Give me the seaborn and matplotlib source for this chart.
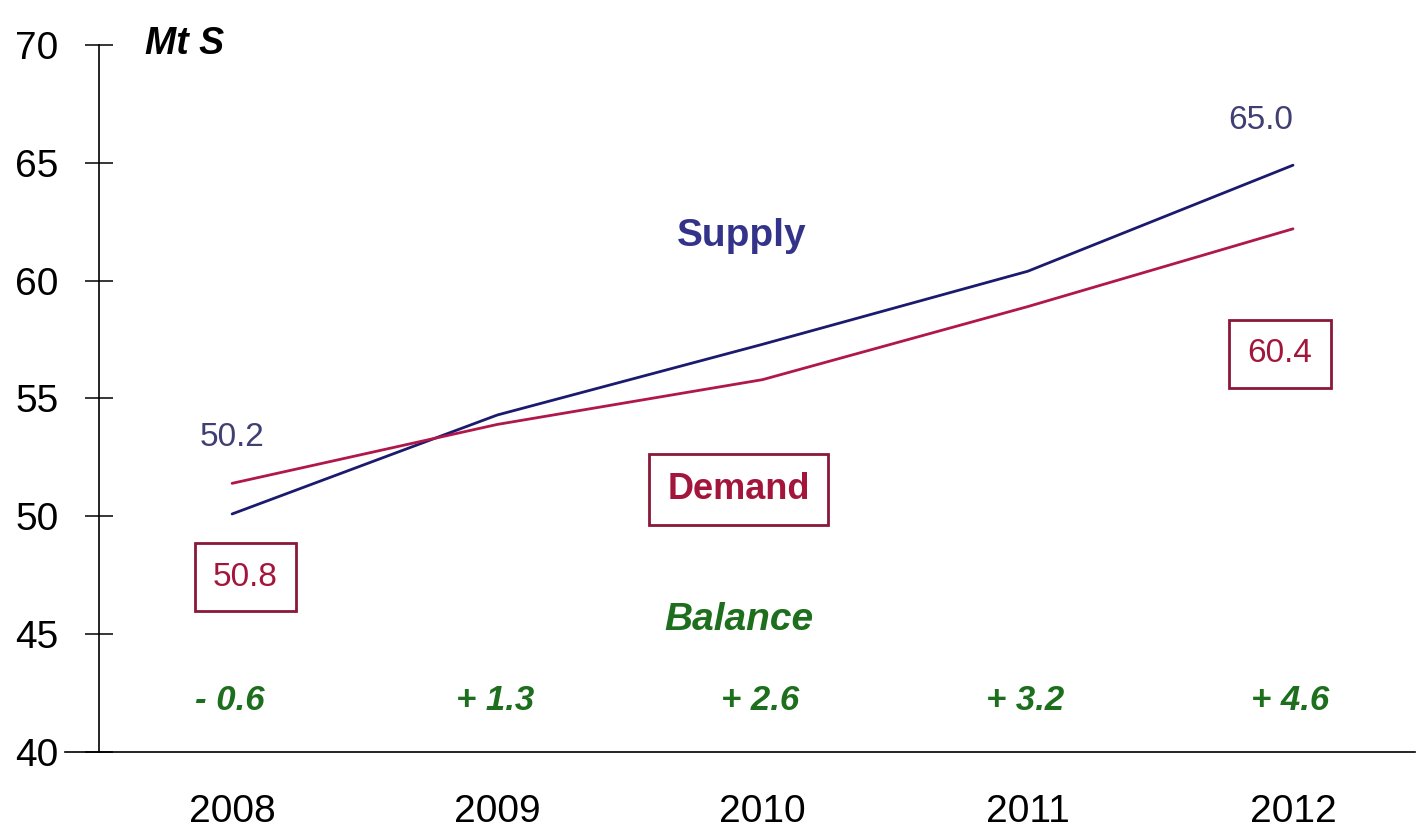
import matplotlib
matplotlib.use("Agg")
import matplotlib.pyplot as plt
import seaborn as sns
import pandas as pd

years = [2008, 2009, 2010, 2011, 2012]
supply = [50.1, 54.3, 57.3, 60.4, 64.9]
demand = [51.4, 53.9, 55.8, 58.9, 62.2]
balance_labels = ["- 0.6", "+ 1.3", "+ 2.6", "+ 3.2", "+ 4.6"]
supply_start_label = "50.2"
supply_end_label = "65.0"
demand_start_label = "50.8"
demand_end_label = "60.4"
y_ticks = [40, 45, 50, 55, 60, 65, 70]

sns.set_style("white")
plt.rcParams['font.family'] = ['Liberation Sans', 'DejaVu Sans']

df = pd.DataFrame({
    "year": years * 2,
    "value": supply + demand,
    "series": ["Supply"] * len(years) + ["Demand"] * len(years),
})

SUPPLY_LINE = "#1b1a6e"
DEMAND_LINE = "#b0174a"
SUPPLY_TXT = "#34338a"
VALUE_TXT = "#3f3f72"
DEMAND_TXT = "#a3163c"
BOX_EDGE = "#8a1838"
GREEN = "#1d6e1d"

fig = plt.figure(figsize=(14.17, 8.31), dpi=100)
ax = fig.add_axes([65 / 1417, 1 - 752 / 831, (1415 - 65) / 1417, (752 - 45) / 831])

sns.lineplot(data=df, x="year", y="value", hue="series",
             palette={"Supply": SUPPLY_LINE, "Demand": DEMAND_LINE},
             linewidth=2.0, legend=False, ax=ax, sort=False)

ax.set_xlim(2007.37, 2012.46)
ax.set_ylim(40, 70)
ax.set_xlabel("")
ax.set_ylabel("")

for s in ["top", "right"]:
    ax.spines[s].set_visible(False)
ax.spines["left"].set_position(("data", 2007.498))
for s in ["left", "bottom"]:
    ax.spines[s].set_color("black")
    ax.spines[s].set_linewidth(1.2)

ax.set_yticks(y_ticks)
ax.set_yticklabels([str(t) for t in y_ticks])
ax.set_xticks(years)
ax.set_xticklabels([str(y) for y in years])
ax.tick_params(axis="y", left=True, direction="inout", length=20, width=1.1, color="black",
               labelsize=28, pad=19, labelcolor="black")
ax.tick_params(axis="x", bottom=False, length=0, labelsize=28, pad=30, labelcolor="black")

# Unit label
ax.text(2007.82, 70.05, "Mt S", fontsize=27, fontweight="bold", fontstyle="italic",
        ha="center", va="center", color="black", clip_on=False)

# Supply labels
ax.text(2009.92, 61.9, "Supply", fontsize=28, fontweight="bold", color=SUPPLY_TXT,
        ha="center", va="center")
ax.text(2008.0, 53.36, supply_start_label, fontsize=24, color=VALUE_TXT,
        ha="center", va="center")
ax.text(2011.88, 66.81, supply_end_label, fontsize=24, color=VALUE_TXT,
        ha="center", va="center")

# Demand labels (boxed)
ax.text(2009.91, 51.12, "Demand", fontsize=26, fontweight="bold", color=DEMAND_TXT,
        ha="center", va="center",
        bbox=dict(boxstyle="square,pad=0.5", fc="white", ec=BOX_EDGE, lw=2))
ax.text(2008.05, 47.42, demand_start_label, fontsize=24, color=DEMAND_TXT,
        ha="center", va="center",
        bbox=dict(boxstyle="square,pad=0.55", fc="white", ec=BOX_EDGE, lw=2))
ax.text(2011.95, 56.89, demand_end_label, fontsize=24, color=DEMAND_TXT,
        ha="center", va="center",
        bbox=dict(boxstyle="square,pad=0.55", fc="white", ec=BOX_EDGE, lw=2))

# Balance
ax.text(2009.91, 45.6, "Balance", fontsize=28, fontweight="bold", fontstyle="italic",
        color=GREEN, ha="center", va="center")
for yr, lab in zip(years, balance_labels):
    ax.text(yr - 0.01, 42.2, lab, fontsize=25, fontweight="bold", fontstyle="italic",
            color=GREEN, ha="center", va="center")

fig.savefig("out.png", dpi=100, facecolor="white")
